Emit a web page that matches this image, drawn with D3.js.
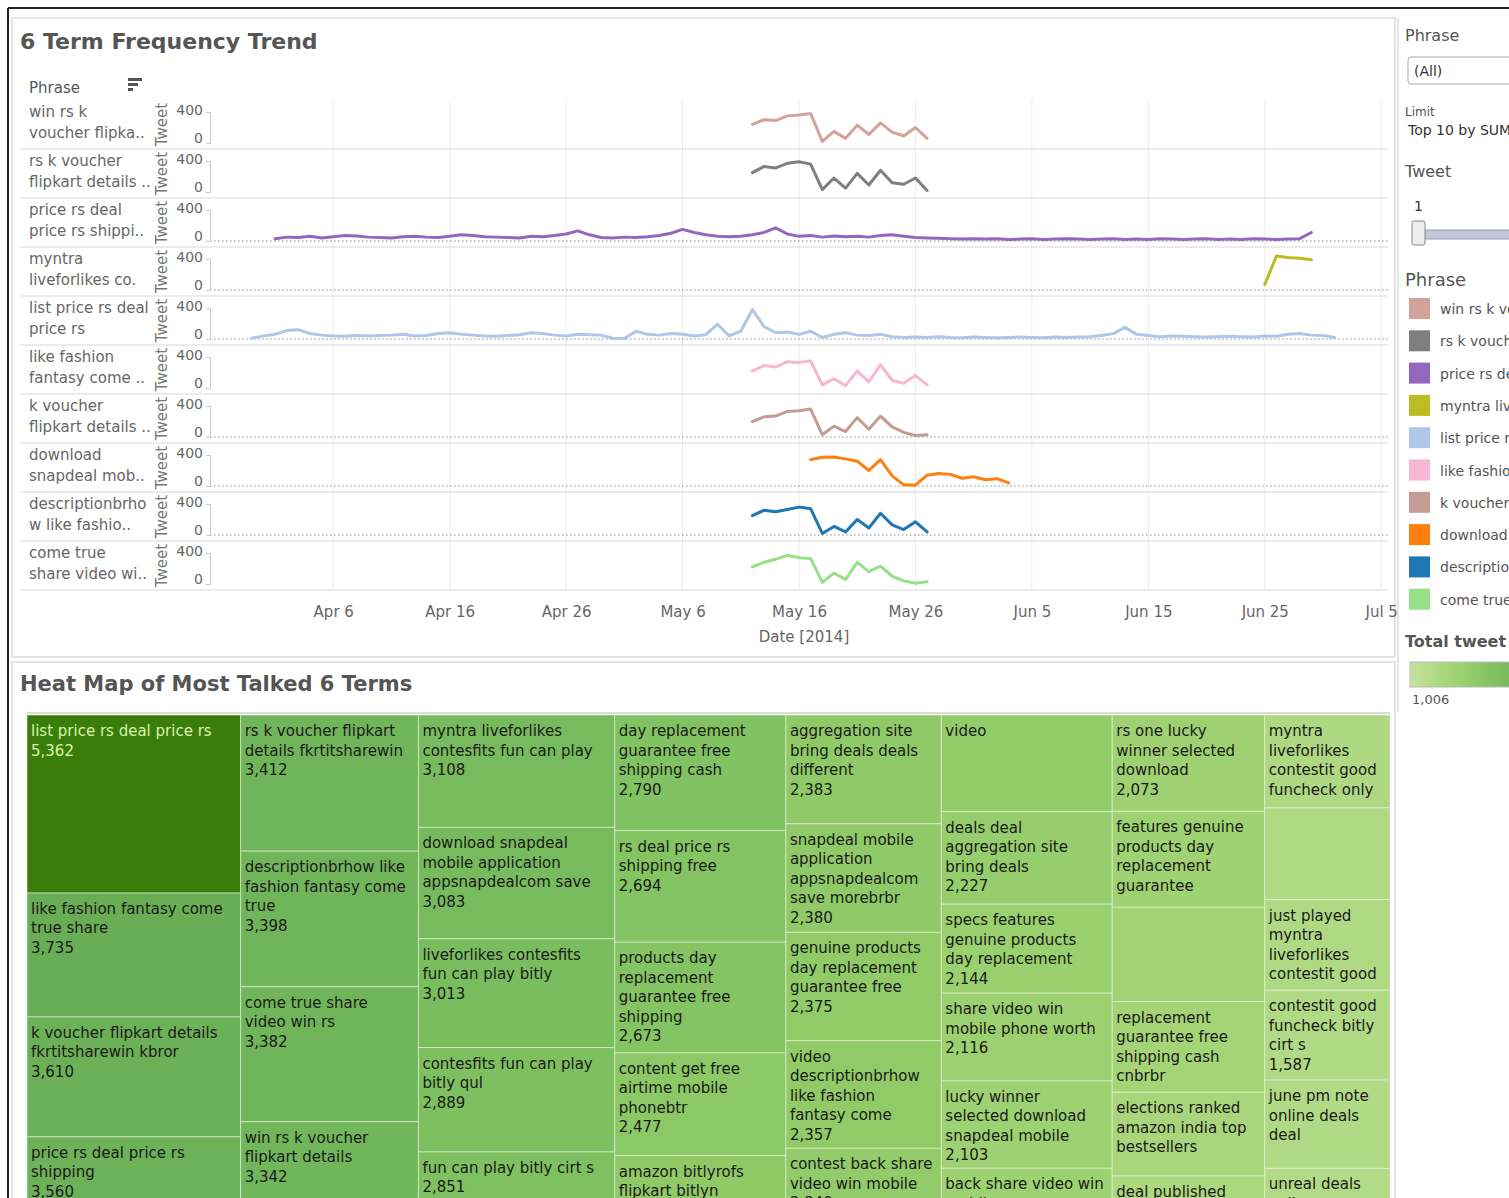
<!DOCTYPE html>
<html>
<head>
<meta charset="utf-8">
<script src="https://cdn.jsdelivr.net/npm/d3@7"></script>
<style>
html, body { margin:0; padding:0; overflow:hidden; background:#fff; }
text { font-family:"DejaVu Sans", Verdana, sans-serif; }
</style>
</head>
<body>
<svg id="dash" width="1509" height="1198"></svg>
<script>
// ---- line chart data (tweets per day) ----
var phrases = ["win rs k voucher flipkart details", "rs k voucher flipkart details fkrtitsharewin",
  "price rs deal price rs shipping", "myntra liveforlikes contestfits", "list price rs deal price rs",
  "like fashion fantasy come true share", "k voucher flipkart details fkrtitsharewin",
  "download snapdeal mobile application", "descriptionbrhow like fashion fantasy", "come true share video win rs"];
var rowLabels = [["win rs k", "voucher flipka.."], ["rs k voucher", "flipkart details .."], ["price rs deal", "price rs shippi.."],
  ["myntra", "liveforlikes co."], ["list price rs deal", "price rs"], ["like fashion", "fantasy come .."],
  ["k voucher", "flipkart details .."], ["download", "snapdeal mob.."], ["descriptionbrho", "w like fashio.."],
  ["come true", "share video wi.."]];
var colours = ["#d3a29a", "#7f7f7f", "#9467bd", "#bcbd22", "#aec7e8", "#f7b6d2", "#c49c94", "#ff7f0e", "#1f77b4", "#98df8a"];
var seriesStart = ["2014-05-12", "2014-05-12", "2014-04-01", "2014-06-25", "2014-03-30", "2014-05-12", "2014-05-12", "2014-05-17", "2014-05-12", "2014-05-12"];

var winVals = [240, 300, 290, 350, 360, 380, 20, 150, 60, 230, 110, 260, 140, 90, 200, 60];
var rskVals = [250, 330, 310, 370, 390, 360, 30, 180, 50, 240, 90, 280, 120, 100, 180, 20];
var priceShipVals = [30, 50, 45, 60, 40, 55, 70, 65, 50, 45,
  40, 55, 60, 50, 45, 60, 80, 70, 55, 50,
  45, 40, 60, 55, 70, 90, 130, 80, 45, 40,
  50, 45, 55, 70, 100, 150, 110, 80, 60, 55,
  60, 80, 110, 170, 90, 60, 70, 50, 65, 55,
  60, 50, 70, 80, 60, 45, 40, 35, 30, 25, 30,
  25, 30, 20, 25, 30, 20, 25, 30, 25, 20,
  25, 30, 20, 25, 20, 30, 25, 20, 25, 30,
  20, 25, 20, 30, 25, 20, 25, 30, 110];
var myntraVals = [70, 440, 420, 410, 390];
var listPriceVals = [10, 40, 60, 110, 120, 70, 50, 40, 35, 45,
  40, 45, 50, 60, 40, 45, 70, 80, 60, 50,
  40, 35, 45, 55, 80, 70, 50, 40, 60, 55,
  50, 10, 5, 100, 60, 50, 70, 60, 40, 55,
  190, 40, 100, 380, 160, 80, 90, 60, 100, 20,
  60, 80, 50, 45, 60, 30, 20, 25, 20, 30,
  20, 15, 25, 20, 15, 20, 25, 20, 15, 25,
  20, 25, 30, 45, 70, 150, 60, 45, 30, 40,
  35, 30, 25, 30, 35, 30, 25, 40, 35, 60,
  70, 50, 45, 20];
var likeFashionVals = [220, 290, 270, 340, 330, 350, 40, 120, 30, 220, 80, 300, 100, 60, 160, 40];
var kVoucherVals = [200, 260, 270, 330, 340, 360, 30, 140, 70, 250, 100, 270, 130, 60, 20, 30];
var downloadVals = [340, 370, 375, 350, 320, 200, 340, 130, 15, 10, 140, 160, 150, 100, 120, 80, 95, 40];
var descriptionVals = [250, 320, 300, 330, 360, 340, 20, 110, 40, 200, 90, 280, 130, 70, 170, 40];
var comeTrueVals = [220, 280, 320, 370, 340, 330, 20, 140, 60, 280, 160, 230, 100, 40, 10, 30];
var seriesValues = [winVals, rskVals, priceShipVals, myntraVals, listPriceVals, likeFashionVals,
  kVoucherVals, downloadVals, descriptionVals, comeTrueVals];
var zeroLineRows = [2, 3, 4, 6, 7, 8];
var dateTicks = ["2014-04-06", "2014-04-16", "2014-04-26", "2014-05-06", "2014-05-16",
  "2014-05-26", "2014-06-05", "2014-06-15", "2014-06-25", "2014-07-05"];
var tweetTicks = [0, 400];

// ---- heat map (treemap) data, one array per column ----
var heatTerms = [
  ["list price rs deal price rs", "like fashion fantasy come true share", "k voucher flipkart details fkrtitsharewin kbror", "price rs deal price rs shipping"],
  ["rs k voucher flipkart details fkrtitsharewin", "descriptionbrhow like fashion fantasy come true", "come true share video win rs", "win rs k voucher flipkart details"],
  ["myntra liveforlikes contesfits fun can play", "download snapdeal mobile application appsnapdealcom save", "liveforlikes contesfits fun can play bitly", "contesfits fun can play bitly qul", "fun can play bitly cirt s"],
  ["day replacement guarantee free shipping cash", "rs deal price rs shipping free", "products day replacement guarantee free shipping", "content get free airtime mobile phonebtr", "amazon bitlyrofs flipkart bitlyn"],
  ["aggregation site bring deals deals different", "snapdeal mobile application appsnapdealcom save morebrbr", "genuine products day replacement guarantee free", "video descriptionbrhow like fashion fantasy come", "contest back share video win mobile"],
  ["video", "deals deal aggregation site bring deals", "specs features genuine products day replacement", "share video win mobile phone worth", "lucky winner selected download snapdeal mobile", "back share video win mobile"],
  ["rs one lucky winner selected download", "features genuine products day replacement guarantee", "billycirts myntraliveforlikes", "replacement guarantee free shipping cash cnbrbr", "elections ranked amazon india top bestsellers", "deal published amazon india"],
  ["myntra liveforlikes contestit good funcheck only", "contestitgoodfuncheck myntra", "just played myntra liveforlikes contestit good", "contestit good funcheck bitly cirt s", "june pm note online deals deal", "unreal deals online shopping"]
];
var heatTweets = [
  [5362, 3735, 3610, 3560],
  [3412, 3398, 3382, 3342],
  [3108, 3083, 3013, 2889, 2851],
  [2790, 2694, 2673, 2477, 2400],
  [2383, 2380, 2375, 2357, 2340],
  [2330, 2227, 2144, 2116, 2103, 2090],
  [2073, 2060, 2030, 1950, 1800, 1700],
  [1640, 1620, 1600, 1587, 1560, 1530]
];
var noValueShown = ["video", "june pm note online deals deal", "elections ranked amazon india top bestsellers"];
var noLabelShown = ["billycirts myntraliveforlikes", "contestitgoodfuncheck myntra"];
var tweetRange = [1006, 5362];

var svg = d3.select('#dash');
var parse = d3.timeParse('%Y-%m-%d');
var fmt = d3.format(',');

// ---- frames ----
svg.append('rect').attr('x', 0).attr('y', 0).attr('width', 1509).attr('height', 1198).attr('fill', '#fff');
svg.append('rect').attr('x', 12).attr('y', 18).attr('width', 1383).attr('height', 639).attr('fill', 'none').attr('stroke', '#e4e4e4').attr('stroke-width', 2);
svg.append('rect').attr('x', 12).attr('y', 662).attr('width', 1383).attr('height', 560).attr('fill', 'none').attr('stroke', '#e4e4e4').attr('stroke-width', 2);
svg.append('line').attr('x1', 1398).attr('x2', 1398).attr('y1', 18).attr('y2', 712).attr('stroke', '#e4e4e4').attr('stroke-width', 2);
svg.append('line').attr('x1', 8).attr('x2', 1509).attr('y1', 8).attr('y2', 8).attr('stroke', '#222').attr('stroke-width', 2);
svg.append('line').attr('x1', 8).attr('x2', 8).attr('y1', 8).attr('y2', 1198).attr('stroke', '#222').attr('stroke-width', 2);

// ---- line chart ----
svg.append('text').attr('x', 20).attr('y', 49).attr('font-size', 22).attr('font-weight', 'bold').attr('fill', '#555').text('6 Term Frequency Trend');
svg.append('text').attr('x', 29).attr('y', 93).attr('font-size', 15).attr('fill', '#555').text('Phrase');
[[14, 0], [10, 5], [5, 10]].forEach(function(b){
  svg.append('rect').attr('x', 128).attr('y', 78 + b[1]).attr('width', b[0]).attr('height', 3).attr('fill', '#555');
});

var rowTop = 100, rowH = 49, plotL = 210, plotR = 1388;
var x = d3.scaleTime().domain([new Date(2014, 2, 26, 10), new Date(2014, 6, 5, 14)]).range([plotL, plotR]);
var y = d3.scaleLinear().domain([0, 400]).range([43, 12]);

// vertical grid
svg.append('g').selectAll('line').data(dateTicks).enter().append('line')
  .attr('x1', function(d){ return x(parse(d)); }).attr('x2', function(d){ return x(parse(d)); })
  .attr('y1', rowTop).attr('y2', rowTop + rowH * 10).attr('stroke', '#ececec');

// row separators
svg.append('g').selectAll('line').data(d3.range(1, 11)).enter().append('line')
  .attr('x1', 20).attr('x2', plotR).attr('y1', function(i){ return rowTop + rowH * i; }).attr('y2', function(i){ return rowTop + rowH * i; })
  .attr('stroke', '#d9d9d9');

var line = d3.line().x(function(d){ return x(d.date); }).y(function(d){ return y(d.v); });

phrases.forEach(function(p, i){
  var g = svg.append('g').attr('transform', 'translate(0,' + (rowTop + rowH * i) + ')');
  if (zeroLineRows.indexOf(i) >= 0) {
    g.append('line').attr('x1', plotL).attr('x2', plotR).attr('y1', y(0)).attr('y2', y(0))
      .attr('stroke', '#888').attr('stroke-dasharray', '1.5,2.5');
  }
  var ax = g.append('g').attr('transform', 'translate(' + plotL + ',0)')
    .call(d3.axisLeft(y).tickValues(tweetTicks).tickSize(4).tickFormat(d3.format('d')));
  ax.select('.domain').attr('stroke', '#c8c8c8');
  ax.selectAll('.tick line').attr('stroke', '#c8c8c8');
  ax.selectAll('.tick text').attr('font-size', 14).attr('fill', '#666')
    .attr('font-family', '"DejaVu Sans", sans-serif')
    .attr('dy', function(d){ return d === 0 ? '-0.05em' : '0.15em'; });
  g.append('text').attr('transform', 'translate(167,' + (rowH / 2) + ') rotate(-90)')
    .attr('text-anchor', 'middle').attr('font-size', 15).attr('fill', '#777').text('Tweet');
  g.append('text').attr('x', 29).attr('y', 17).attr('font-size', 15).attr('fill', '#666').text(rowLabels[i][0]);
  g.append('text').attr('x', 29).attr('y', 38).attr('font-size', 15).attr('fill', '#666').text(rowLabels[i][1]);
  var start = parse(seriesStart[i]);
  var pts = seriesValues[i].map(function(v, k){ return {date: d3.timeDay.offset(start, k), v: v}; });
  g.append('path').datum(pts).attr('d', line).attr('fill', 'none').attr('stroke', colours[i])
    .attr('stroke-width', 3).attr('stroke-linejoin', 'round').attr('stroke-linecap', 'round');
});

var xa = svg.append('g').attr('transform', 'translate(0,' + (rowTop + rowH * 10) + ')')
  .call(d3.axisBottom(x).tickValues(dateTicks.map(parse)).tickSize(0).tickPadding(16).tickFormat(d3.timeFormat('%b %-d')));
xa.select('.domain').remove();
xa.selectAll('text').attr('font-size', 15).attr('fill', '#666').attr('font-family', '"DejaVu Sans", sans-serif');
svg.append('text').attr('x', 804).attr('y', 642).attr('text-anchor', 'middle').attr('font-size', 15).attr('fill', '#666').text('Date [2014]');

// ---- right side panel ----
var rp = svg.append('g');
rp.append('text').attr('x', 1405).attr('y', 41).attr('font-size', 16).attr('fill', '#555').text('Phrase');
rp.append('rect').attr('x', 1408).attr('y', 57).attr('width', 120).attr('height', 27).attr('rx', 3).attr('fill', '#fff').attr('stroke', '#aaa');
rp.append('text').attr('x', 1414).attr('y', 76).attr('font-size', 14).attr('fill', '#333').text('(All)');
rp.append('text').attr('x', 1405).attr('y', 116).attr('font-size', 12).attr('fill', '#555').text('Limit');
rp.append('text').attr('x', 1408).attr('y', 135).attr('font-size', 14).attr('fill', '#333').text('Top 10 by SUM(Tweet)');
rp.append('text').attr('x', 1405).attr('y', 177).attr('font-size', 16).attr('fill', '#555').text('Tweet');
rp.append('text').attr('x', 1414).attr('y', 211).attr('font-size', 14).attr('fill', '#333').text('1');
rp.append('rect').attr('x', 1420).attr('y', 230).attr('width', 110).attr('height', 9).attr('fill', '#c5c5de').attr('stroke', '#9a9aae');
rp.append('rect').attr('x', 1412).attr('y', 221).attr('width', 13).attr('height', 24).attr('rx', 2).attr('fill', '#eee').attr('stroke', '#888');
rp.append('text').attr('x', 1405).attr('y', 286).attr('font-size', 18).attr('fill', '#555').text('Phrase');
var lg = rp.selectAll('g.leg').data(phrases).enter().append('g').attr('class', 'leg')
  .attr('transform', function(d, i){ return 'translate(1409,' + (298 + i * 32.3) + ')'; });
lg.append('rect').attr('width', 21).attr('height', 21).attr('fill', function(d, i){ return colours[i]; });
lg.append('text').attr('x', 31).attr('y', 16).attr('font-size', 14).attr('fill', '#555').text(function(d){ return d; });
rp.append('text').attr('x', 1405).attr('y', 647).attr('font-size', 16).attr('font-weight', 'bold').attr('fill', '#555').text('Total tweet');

var heatColor = d3.scaleLinear().domain([1006, 2000, 2400, 3000, 3700, 5362])
  .range(['#c4e39c', '#a2d374', '#8fca67', '#7abd5f', '#6aaf57', '#3b7d0a']);
var grad = svg.append('defs').append('linearGradient').attr('id', 'tg');
d3.range(0, 1.01, 0.25).forEach(function(t){
  grad.append('stop').attr('offset', t).attr('stop-color', heatColor(tweetRange[0] + t * (tweetRange[1] - tweetRange[0])));
});
rp.append('rect').attr('x', 1410).attr('y', 662).attr('width', 200).attr('height', 25).attr('fill', 'url(#tg)').attr('stroke', '#bbb');
rp.append('text').attr('x', 1412).attr('y', 704).attr('font-size', 13).attr('fill', '#555').text(fmt(tweetRange[0]));

// ---- heat map ----
svg.append('text').attr('x', 20).attr('y', 691).attr('font-size', 21).attr('font-weight', 'bold').attr('fill', '#555').text('Heat Map of Most Talked 6 Terms');
svg.append('line').attr('x1', 27).attr('x2', 1390).attr('y1', 713).attr('y2', 713).attr('stroke', '#ddd').attr('stroke-width', 2);

var root = d3.hierarchy({children: heatTerms.map(function(col, c){
  return {children: col.map(function(t, i){ return {name: t, value: heatTweets[c][i]}; })};
})}).sum(function(d){ return d.value || 0; });
d3.treemap().tile(d3.treemapSliceDice).size([1363, 540]).paddingInner(0)(root);

var tm = svg.append('g').attr('transform', 'translate(27,715)');
var measure = svg.append('text').attr('font-size', 15).style('visibility', 'hidden');
function textWidth(s){ measure.text(s); return measure.node().getComputedTextLength(); }
function wrapWords(str, maxW){
  var words = str.split(' '), lines = [], cur = '';
  words.forEach(function(w){
    var t = cur ? cur + ' ' + w : w;
    if (cur && textWidth(t) > maxW) { lines.push(cur); cur = w; } else { cur = t; }
  });
  if (cur) lines.push(cur);
  return lines;
}

var cells = tm.selectAll('g').data(root.leaves()).enter().append('g')
  .attr('transform', function(d){ return 'translate(' + d.x0 + ',' + d.y0 + ')'; });
cells.append('rect').attr('width', function(d){ return d.x1 - d.x0; }).attr('height', function(d){ return d.y1 - d.y0; })
  .attr('fill', function(d){ return heatColor(d.data.value); })
  .attr('stroke', 'rgba(235,245,225,0.55)').attr('stroke-width', 1);
cells.each(function(d){
  if (noLabelShown.indexOf(d.data.name) >= 0) return;
  var w = d.x1 - d.x0, h = d.y1 - d.y0;
  var lines = wrapWords(d.data.name, w - 12);
  if (noValueShown.indexOf(d.data.name) < 0) lines.push(fmt(d.data.value));
  var dark = d.data.value > 4500;
  var g = d3.select(this);
  lines.forEach(function(l, k){
    var by = 21 + k * 19.5;
    if (by + 4 > h && d.y1 < 480) return;
    g.append('text').attr('x', 4).attr('y', by).attr('font-size', 15)
      .attr('fill', dark ? '#d9f3ad' : '#1a1a1a').text(l);
  });
});
measure.remove();
</script>
</body>
</html>
